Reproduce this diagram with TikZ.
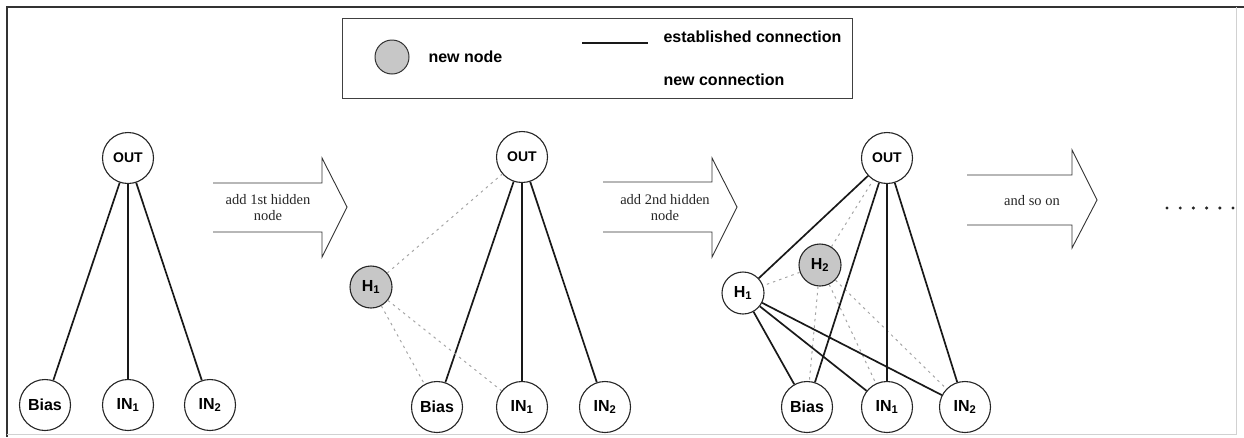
\documentclass[tikz,border=0pt]{standalone}
\usepackage{fontspec}
\setmainfont{Liberation Serif}
\newfontfamily\labfont{Liberation Sans}
\tikzset{
  unit/.style={circle, draw=black!85, line width=1.1pt, fill=white, minimum size=51pt, inner sep=0pt,
    font=\labfont\bfseries\fontsize{16}{16}\selectfont},
  outunit/.style={unit, font=\labfont\bfseries\fontsize{14}{14}\selectfont},
  hid/.style={unit, minimum size=42pt},
  newhid/.style={hid, fill=black!22},
  conn/.style={line width=1.7pt, black!90},
  newconn/.style={line width=1pt, black!35, dash pattern=on 2.5pt off 4pt},
  bigarrow/.style={line width=0.9pt, black!80},
  steplabel/.style={font=\fontsize{14.5}{16}\selectfont, align=center, text=black!85},
  legendtext/.style={font=\labfont\bfseries\fontsize{16}{16}\selectfont, anchor=west},
}
\begin{document}
\begin{tikzpicture}[x=1pt, y=-1pt]
\useasboundingbox (0,0) rectangle (1244,437);

% outer frame
\draw[line width=2.2pt, black!80] (7,437) -- (7,7) -- (1244,7);
\draw[line width=0.6pt, black!18] (1236,7) -- (1236,434) -- (7,434);

% legend
\draw[line width=1pt, black!75] (342,18) rectangle (852,98);
\node[circle, draw=black!80, line width=1pt, fill=black!22, minimum size=34pt, inner sep=0pt] (lg-node) at (392,57) {};
\node[legendtext] (lg-nodetext) at (425,57) {new node};
\coordinate (lg-a) at (582,43);
\coordinate (lg-b) at (648,43);
\draw[conn] (lg-a) -- (lg-b);
\node[legendtext] (lg-est) at (660,37) {established connection};
\node[legendtext] (lg-new) at (660,80) {new connection};

% stage 1
\node[outunit] (a-out) at (128,158) {OUT};
\node[unit] (a-bias) at (45,405) {Bias};
\node[unit] (a-in1) at (128,405) {IN\textsubscript{1}};
\node[unit] (a-in2) at (210,405) {IN\textsubscript{2}};
\draw[conn] (a-out) -- (a-bias);
\draw[conn] (a-out) -- (a-in1);
\draw[conn] (a-out) -- (a-in2);

% transition 1
\draw[bigarrow] (213,183) -- (322,183) -- (322,158) -- (347,207) -- (322,257) -- (322,232) -- (213,232);
\node[steplabel] (t1) at (268,208) {add 1st hidden\\node};

% stage 2
\node[outunit] (b-out) at (522,157) {OUT};
\node[unit] (b-bias) at (437,407) {Bias};
\node[unit] (b-in1) at (522,407) {IN\textsubscript{1}};
\node[unit] (b-in2) at (605,407) {IN\textsubscript{2}};
\node[newhid] (b-h1) at (371,287) {H\textsubscript{1}};
\draw[conn] (b-out) -- (b-bias);
\draw[conn] (b-out) -- (b-in1);
\draw[conn] (b-out) -- (b-in2);
\draw[newconn] (b-h1) -- (b-out);
\draw[newconn] (b-h1) -- (b-bias);
\draw[newconn] (b-h1) -- (b-in1);

% transition 2
\draw[bigarrow] (603,182) -- (712,182) -- (712,158) -- (737,207) -- (712,257) -- (712,232) -- (603,232);
\node[steplabel] (t2) at (665,208) {add 2nd hidden\\node};

% stage 3
\node[outunit] (c-out) at (887,158) {OUT};
\node[unit] (c-bias) at (807,407) {Bias};
\node[unit] (c-in1) at (887,407) {IN\textsubscript{1}};
\node[unit] (c-in2) at (965,407) {IN\textsubscript{2}};
\node[hid] (c-h1) at (743,293) {H\textsubscript{1}};
\node[newhid] (c-h2) at (820,265) {H\textsubscript{2}};
\draw[newconn] (c-h2) -- (c-out);
\draw[newconn] (c-h2) -- (c-h1);
\draw[newconn] (c-h2) -- (c-bias);
\draw[newconn] (c-h2) -- (c-in1);
\draw[newconn] (c-h2) -- (c-in2);
\draw[conn] (c-out) -- (c-h1);
\draw[conn] (c-out) -- (c-bias);
\draw[conn] (c-out) -- (c-in1);
\draw[conn] (c-out) -- (c-in2);
\draw[conn] (c-h1) -- (c-bias);
\draw[conn] (c-h1) -- (c-in1);
\draw[conn] (c-h1) -- (c-in2);

% transition 3
\draw[bigarrow] (967,175) -- (1072,175) -- (1072,150) -- (1097,200) -- (1072,248) -- (1072,225) -- (967,225);
\node[steplabel] (t3) at (1032,201) {and so on};

% continuation dots
\foreach \i in {0,...,5} {
  \fill[black!85] ({1167+13.2*\i},208) circle (1.7pt);
}
\end{tikzpicture}
\end{document}
